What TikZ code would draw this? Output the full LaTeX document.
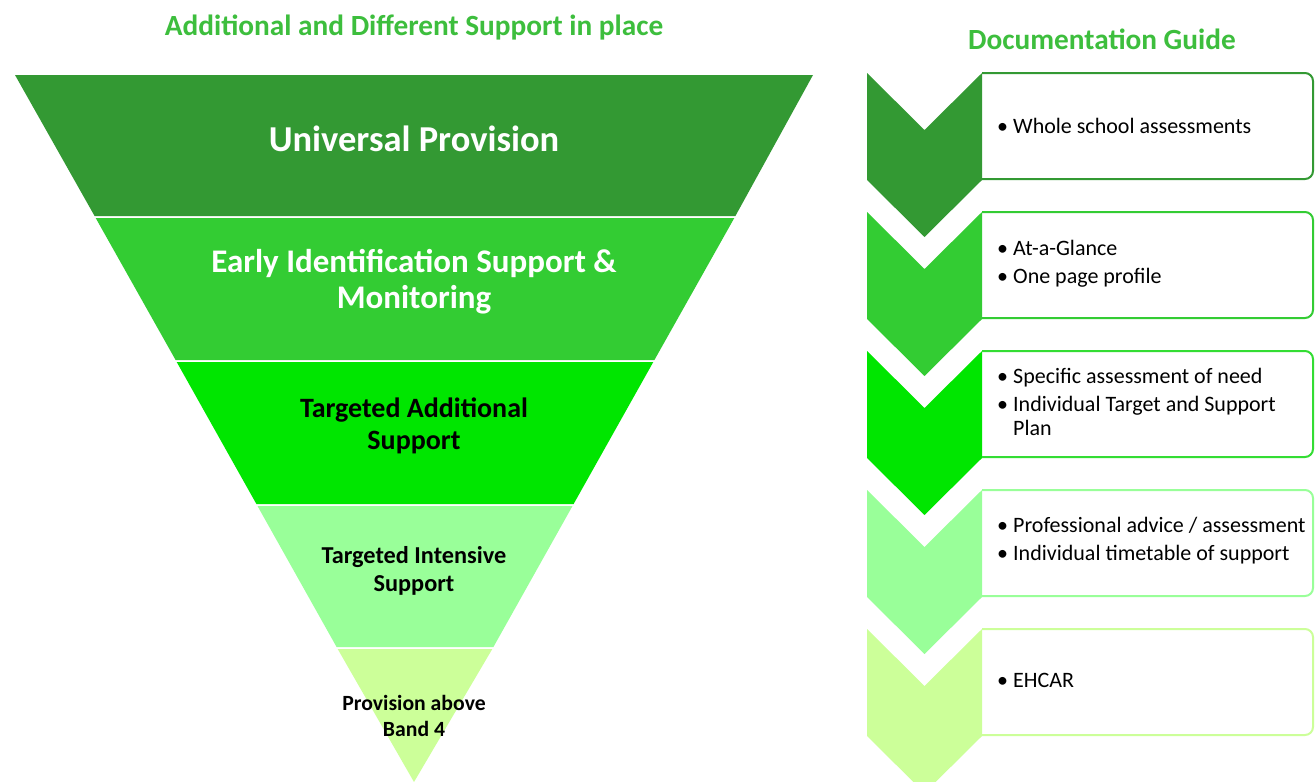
\documentclass[tikz,border=0pt]{standalone}
\usepackage{fontspec}
\setmainfont{Carlito}
\definecolor{gA}{HTML}{339933}
\definecolor{gB}{HTML}{33CC33}
\definecolor{gC}{HTML}{00E600}
\definecolor{gD}{HTML}{99FF99}
\definecolor{gE}{HTML}{CCFF99}
\definecolor{ttl}{HTML}{3DBE3D}
\definecolor{bC}{HTML}{33DD33}
\newcommand{\fs}[2]{\fontsize{#1}{#2}\selectfont}
\newcommand{\bul}{\makebox[16pt][l]{•}}
\begin{document}
\begin{tikzpicture}[x=1pt,y=-1pt,
  bandtxt/.style={align=center,font=\bfseries,inner sep=0pt},
  boxtxt/.style={anchor=west,align=left,inner sep=0pt,font=\fs{22}{28}},
  titletxt/.style={text=ttl,font=\bfseries\fs{29.3}{34},inner sep=0pt}]
\useasboundingbox (0,0) rectangle (1315,782);
\fill[white] (0,0) rectangle (1315,782);
% inverted triangle bands; left edge x = 15 + 399*(y-75)/707
\fill[gA] (15,75) -- (813,75) -- (735.4,216) -- (94.6,216) -- cycle;
\fill[gB] (95.7,218) -- (734.3,218) -- (654.4,360) -- (175.6,360) -- cycle;
\fill[gC] (176.7,362) -- (653.3,362) -- (573.6,504) -- (256.4,504) -- cycle;
\fill[gD] (257.5,506) -- (572.5,506) -- (493.4,647) -- (336.6,647) -- cycle;
\fill[gE] (337.7,649) -- (492.3,649) -- (414,782) -- cycle;
\node[titletxt] (t1) at (414,28) {Additional and Different Support in place};
\node[titletxt] (t2) at (1102,39) {Documentation Guide};
\node[bandtxt,text=white,font=\bfseries\fs{36.5}{40}] (b1) at (414,139) {Universal Provision};
\node[bandtxt,text=white,font=\bfseries\fs{33}{36}] (b2) at (414,282) {Early Identification Support \&\\Monitoring};
\node[bandtxt,text=black,font=\bfseries\fs{28}{32}] (b3) at (414,426) {Targeted Additional\\Support};
\node[bandtxt,text=black,font=\bfseries\fs{24.3}{28}] (b4) at (414,571) {Targeted Intensive\\Support};
\node[bandtxt,text=black,font=\bfseries\fs{21.7}{26}] (b5) at (414,716) {Provision above\\Band 4};
% chevrons and boxes
\foreach \t/\c/\bc in {73/gA/gA,212/gB/gB,351/gC/bC,490/gD/gD,629/gE/gE}{
  \fill[\c] (867,\t) -- (924.5,\t+57) -- (982,\t) -- (982,\t+107) -- (924.5,\t+164) -- (867,\t+107) -- cycle;
  \draw[\bc,line width=2pt,rounded corners=8pt] (982,\t) -- (1313,\t) -- (1313,\t+106) -- (982,\t+106);
}
\node[boxtxt] (r1) at (997,126) {\bul Whole school assessments};
\node[boxtxt] (r2) at (997,264) {\bul At-a-Glance\\\bul One page profile};
\node[boxtxt] (r3) at (997,402) {\bul Specific assessment of need\\\bul Individual Target and Support\\[-4pt]\hspace*{16pt}Plan};
\node[boxtxt] (r4) at (997,541) {\bul Professional advice / assessment\\\bul Individual timetable of support};
\node[boxtxt] (r5) at (997,680) {\bul EHCAR};
\end{tikzpicture}
\end{document}
